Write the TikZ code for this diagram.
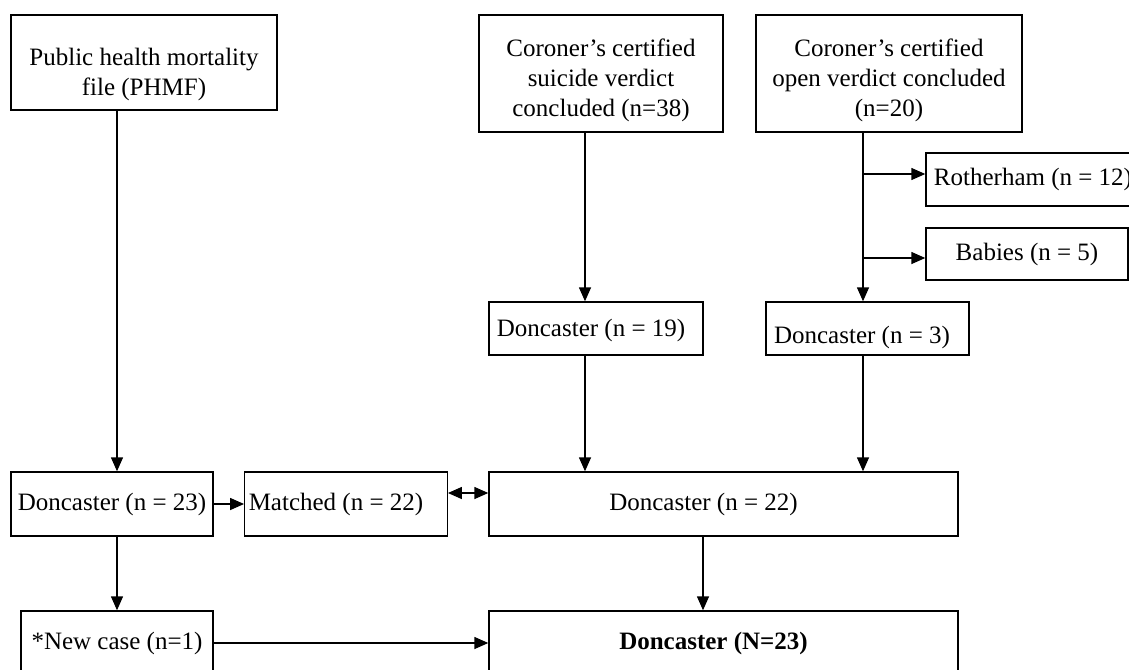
\documentclass[tikz,border=0pt]{standalone}
\usepackage{fontspec}
\setmainfont{Liberation Serif}
\usepackage{tikz}
\usetikzlibrary{arrows.meta}

\newcommand{\lowered}[2]{\raisebox{-#1}[\height][\depth]{\begin{tabular}{@{}c@{}}#2\end{tabular}}}

\begin{document}
\begin{tikzpicture}[x=0.5pt, y=-0.5pt,
    box/.style={draw, line width=0.7pt, align=center, inner sep=2pt,
      font=\fontsize{12.5}{15}\selectfont},
    arr/.style={line width=0.7pt, -{Triangle[length=7pt, width=6pt]}},
    dblarr/.style={line width=0.7pt, {Triangle[length=7pt, width=6pt]}-{Triangle[length=7pt, width=6pt]}}]
        \path[use as bounding box, clip] (0, 0) rectangle (1129, 669);
        \fill[white] (0, 0) rectangle (1129, 669);

        \node[box, minimum width=133pt, minimum height=47.5pt] (phmf) at (144, 62.5) {\lowered{6pt}{Public health mortality\\file (PHMF)}};
        \node[box, minimum width=122pt, minimum height=58.5pt] (suic) at (601, 73.5) {\lowered{3.5pt}{Coroner's certified\\suicide verdict\\concluded (n=38)}};
        \node[box, minimum width=133pt, minimum height=58.5pt] (open) at (889, 73.5) {\lowered{3.5pt}{Coroner's certified\\open verdict concluded\\(n=20)}};
        \node[box, minimum width=115pt, minimum height=26.5pt] (roth) at (1041, 179.5) {Rotherham (n = 12)\hspace*{8pt}};
        \node[box, minimum width=101pt, minimum height=26pt] (babies) at (1027, 254) {Babies (n = 5)};
        \node[box, minimum width=107pt, minimum height=26.5pt] (d19) at (596, 328.5) {\lowered{1pt}{Doncaster (n = 19)}\hspace*{5pt}};
        \node[box, minimum width=101.5pt, minimum height=26.5pt] (d3) at (867.5, 328.5) {\lowered{4.5pt}{Doncaster (n = 3)}\hspace*{5.5pt}};
        \node[box, minimum width=101pt, minimum height=32pt] (d23) at (112, 504) {Doncaster (n = 23)};
        \node[box, minimum width=101pt, minimum height=32pt] (match) at (346, 504) {Matched (n = 22)\hspace*{10pt}};
        \node[box, minimum width=234.5pt, minimum height=32pt] (d22) at (723.5, 504) {Doncaster (n = 22)\hspace*{20pt}};
        \node[box, minimum width=96pt, minimum height=32pt] (newc) at (117, 643) {*New case (n=1)};
        \node[box, minimum width=234.5pt, minimum height=32pt] (dn23) at (723.5, 643) {\textbf{Doncaster (N=23)}\hspace*{10pt}};

        \coordinate (sx) at (585, 0);
        \coordinate (ox) at (863, 0);
        \coordinate (mx) at (703, 0);

        \draw[arr] (phmf.south -| newc.north) -- (d23.north -| newc.north);
        \draw[arr] (d23.south -| newc.north) -- (newc.north);
        \draw[arr] (d23.east) -- (match.west);
        \draw[dblarr] ([yshift=5.5pt]match.east) -- ([yshift=5.5pt]d22.west);
        \draw[arr] (sx |- suic.south) -- (sx |- d19.north);
        \draw[arr] (sx |- d19.south) -- (sx |- d22.north);
        \draw[arr] (ox |- open.south) -- (ox |- d3.north);
        \draw[arr] (ox |- roth.west) ++(0, -5.5) -- ([yshift=2.75pt]roth.west);
        \draw[arr] (ox |- babies.west) ++(0, 4) -- ([yshift=-2pt]babies.west);
        \draw[arr] (ox |- d3.south) -- (ox |- d22.north);
        \draw[arr] (mx |- d22.south) -- (mx |- dn23.north);
        \draw[arr] (newc.east) -- (dn23.west);
      \end{tikzpicture}
\end{document}
